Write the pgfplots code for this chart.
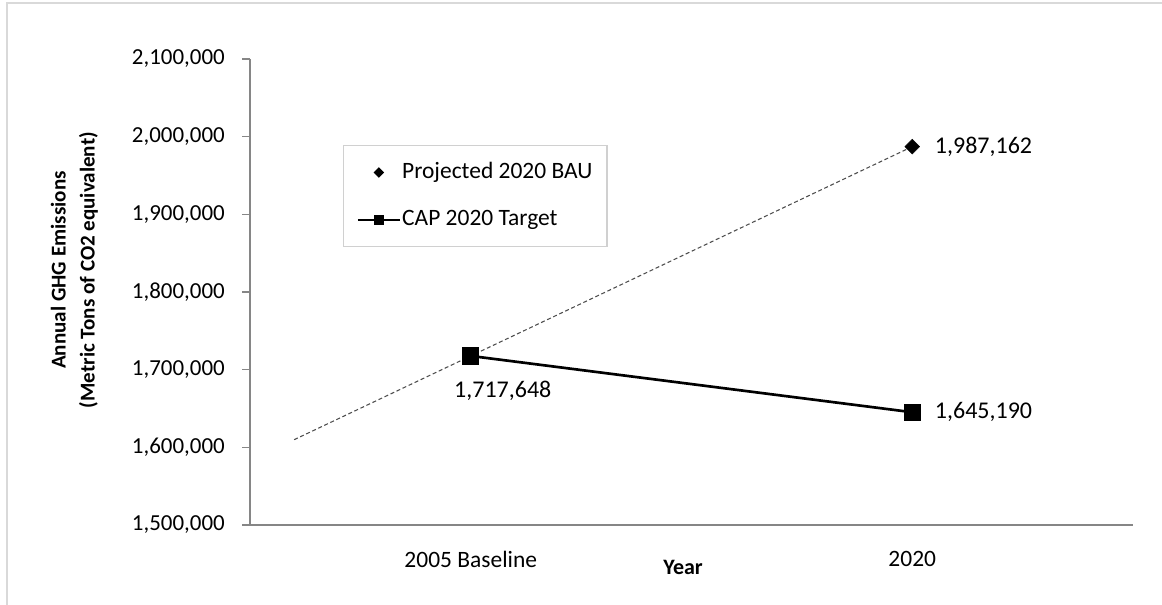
\documentclass[border=0pt]{standalone}
\usepackage{fontspec}
\setmainfont{Carlito}
\usepackage{pgfplots}
\pgfplotsset{compat=1.18}
\definecolor{axisgray}{HTML}{868686}
\definecolor{framegray}{HTML}{D9D9D9}
\definecolor{legendgray}{HTML}{D0D0D0}
\definecolor{trendgray}{HTML}{4D4D4D}
\begin{document}
\begin{tikzpicture}
\path[use as bounding box] (0pt,0pt) rectangle (871.5pt,453.75pt);
\draw[framegray, line width=2pt] (5.25pt,0pt) -- (5.25pt,451.5pt) -- (871.5pt,451.5pt);
\begin{axis}[
  at={(187.5pt,60pt)}, anchor=south west,
  scale only axis, width=662.25pt, height=349.5pt,
  xmin=0.5, xmax=2.5, ymin=1500000, ymax=2100000,
  axis lines=left,
  axis line style={draw=axisgray, line width=0.8pt, -},
  xtick={1,2}, xticklabels={2005 Baseline,2020},
  xtick style={draw=none},
  xticklabel style={font=\fontsize{17.6}{20}\selectfont, anchor=center, yshift=-22.5pt, inner sep=0pt},
  ytick={1500000,1600000,1700000,1800000,1900000,2000000,2100000},
  ytick align=outside, ytick pos=left,
  ytick style={draw=axisgray, line width=0.8pt},
  major tick length=6pt,
  yticklabel style={font=\fontsize{17.2}{20}\selectfont, anchor=east, inner sep=0pt, xshift=-12.75pt},
  scaled y ticks=false,
  /pgf/number format/.cd, fixed, 1000 sep={,}, assume math mode=true,
  /pgfplots/.cd,
  xlabel={Year},
  xlabel style={font=\bfseries\fontsize{16.5}{19}\selectfont, at={(0.4904,-0.0901)}, anchor=center, inner sep=0pt},
  ylabel={Annual GHG Emissions\\(Metric Tons of CO2 equivalent)},
  ylabel style={font=\bfseries\fontsize{15.8}{21.75}\selectfont, align=center, at={(-0.1988,0.547)}, anchor=center, inner sep=0pt},
  clip=false,
  legend cell align=left,
  legend style={at={(0.1053,0.8155)}, anchor=north west, draw=legendgray, line width=0.8pt,
    font=\fontsize{17.6}{20}\selectfont,
    inner xsep=10pt, inner ysep=11.5pt, row sep=18pt,
    /tikz/every even column/.append style={column sep=3pt},
    nodes={inner sep=1pt, text height=12pt, text depth=3.5pt}},
]
% trendline (linear, backward forecast)
\addplot[forget plot, trendgray, line width=0.8pt, dash pattern=on 3pt off 2pt, mark=none]
  coordinates {(0.6,1609842) (2,1987162)};
% Projected 2020 BAU
\addplot[forget plot, only marks, black, mark=square*, mark size=3.9pt, mark options={rotate=45}]
  coordinates {(1,1717648) (2,1987162)};
% CAP 2020 Target
\addplot[forget plot, black, line width=2pt, mark=square*, mark size=5.5pt]
  coordinates {(1,1717648) (2,1645190)};
\addlegendimage{legend image code/.code={
  \draw[black, mark=square*, mark size=2.4pt, mark options={rotate=45}] plot coordinates {(15.75pt,0pt)};}}
\addlegendentry{Projected 2020 BAU}
\addlegendimage{legend image code/.code={
  \draw[black, line width=1.5pt] (0pt,0pt) -- (31.5pt,0pt);
  \draw[black, mark=square*, mark size=3.4pt] plot coordinates {(15.75pt,0pt)};}}
\addlegendentry{CAP 2020 Target}
\node[font=\fontsize{18}{20}\selectfont, anchor=center, xshift=24pt, yshift=-26.25pt] at (axis cs:1,1717648) {1,717,648};
\node[font=\fontsize{18}{20}\selectfont, anchor=west, xshift=13.5pt] at (axis cs:2,1987162) {1,987,162};
\node[font=\fontsize{18}{20}\selectfont, anchor=west, xshift=13.5pt] at (axis cs:2,1645190) {1,645,190};
\end{axis}
\end{tikzpicture}
\end{document}
